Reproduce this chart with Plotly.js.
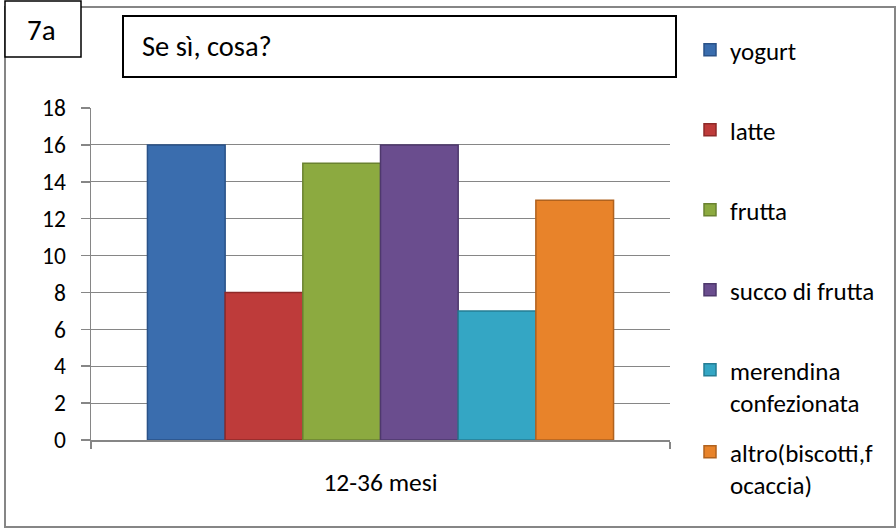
<!DOCTYPE html>
<html>
<head>
<meta charset="utf-8">
<script src="https://cdn.plot.ly/plotly-3.0.1.min.js"></script>
<style>html,body{margin:0;padding:0;background:#fff;}#chart{width:896px;height:528px;}</style>
</head>
<body>
<div id="chart"></div>
<script>
// ---- data ----
const categories = ["12-36 mesi"];
const seriesNames = ["yogurt", "latte", "frutta", "succo di frutta", "merendina<br>confezionata", "altro(biscotti,f<br>ocaccia)"];
const seriesValues = [[16], [8], [15], [16], [7], [13]];
const yTicks = [0, 2, 4, 6, 8, 10, 12, 14, 16, 18];
const chartLabel = "7a";
const chartTitle = "Se sì, cosa?";

// ---- styles ----
const colors = ["#3A6DAE", "#BE3B3A", "#8CAA40", "#6A4D8E", "#34A6C4", "#E8832A"];
const edges  = ["#2A5288", "#8E2A29", "#6A8230", "#4E386C", "#257D94", "#B0621E"];
const FONT = "Carlito, Calibri, Lato, 'Open Sans', sans-serif";

const W = 896, H = 528;
const L = 91, R = 670, T = 108, B = 440;
const px = x => (x - L) / (R - L);
const py = y => (B - y) / (B - T);

const legendY = [50, 130, 210, 290, 386, 468];
const traces = seriesNames.map((n, i) => ({
  type: "bar",
  name: n,
  x: categories,
  y: seriesValues[i],
  marker: { color: colors[i], line: { color: edges[i], width: 1.5 } },
  legend: i === 0 ? "legend" : "legend" + (i + 1),
  hoverinfo: "none"
}));

const layout = {
  width: W, height: H,
  margin: { l: L, r: W - R, t: T, b: H - B, pad: 0 },
  paper_bgcolor: "#fff", plot_bgcolor: "#fff",
  font: { family: FONT, size: 24, color: "#000" },
  barmode: "group", bargap: 0.195, bargroupgap: 0,
  showlegend: true,
  xaxis: {
    type: "category",
    showline: true, linecolor: "#868686", linewidth: 1.5,
    ticks: "outside", tickson: "boundaries", ticklen: 7, tickcolor: "#868686", tickwidth: 1.5,
    showgrid: false, zeroline: false,
    ticklabelstandoff: 19,
    tickfont: { family: FONT, size: 25.5, color: "#000" },
    fixedrange: true
  },
  yaxis: {
    range: [0, 18], tickvals: yTicks, ticktext: yTicks.map(String),
    showline: true, linecolor: "#868686", linewidth: 1.5,
    ticks: "outside", ticklen: 9, tickcolor: "#868686", tickwidth: 1.5,
    showgrid: true, gridcolor: "#868686", gridwidth: 1.2,
    zeroline: false,
    ticklabelstandoff: 10,
    tickfont: { family: FONT, size: 23.5, color: "#000" },
    fixedrange: true
  },
  shapes: [
    { type: "rect", xref: "paper", yref: "paper", x0: px(5), x1: px(895), y0: py(7), y1: py(527),
      line: { color: "#868686", width: 2 }, fillcolor: "rgba(0,0,0,0)", layer: "below" },
    { type: "rect", xref: "paper", yref: "paper", x0: px(5), x1: px(81), y0: py(1), y1: py(57),
      line: { color: "#000", width: 1.5 }, fillcolor: "#fff", layer: "above" },
    { type: "rect", xref: "paper", yref: "paper", x0: px(123), x1: px(676), y0: py(16), y1: py(77),
      line: { color: "#000", width: 2 }, fillcolor: "#fff", layer: "above" }
  ],
  annotations: [
    { xref: "paper", yref: "paper", x: px(41), y: py(30), xanchor: "center", yanchor: "middle",
      text: chartLabel, showarrow: false, font: { family: FONT, size: 29, color: "#000" } },
    { xref: "paper", yref: "paper", x: px(140), y: py(47), xanchor: "left", yanchor: "middle",
      text: chartTitle, showarrow: false, font: { family: FONT, size: 28.5, color: "#000" } }
  ]
};

legendY.forEach((yy, i) => {
  const key = i === 0 ? "legend" : "legend" + (i + 1);
  layout[key] = {
    x: px(690), xanchor: "left", y: py(yy), yanchor: "middle",
    bgcolor: "rgba(0,0,0,0)", borderwidth: 0,
    font: { family: FONT, size: 25, color: "#000" },
    valign: "top", itemwidth: 30, itemclick: false, itemdoubleclick: false
  };
});

Plotly.newPlot("chart", traces, layout, { displayModeBar: false, staticPlot: true });
</script>
</body>
</html>
